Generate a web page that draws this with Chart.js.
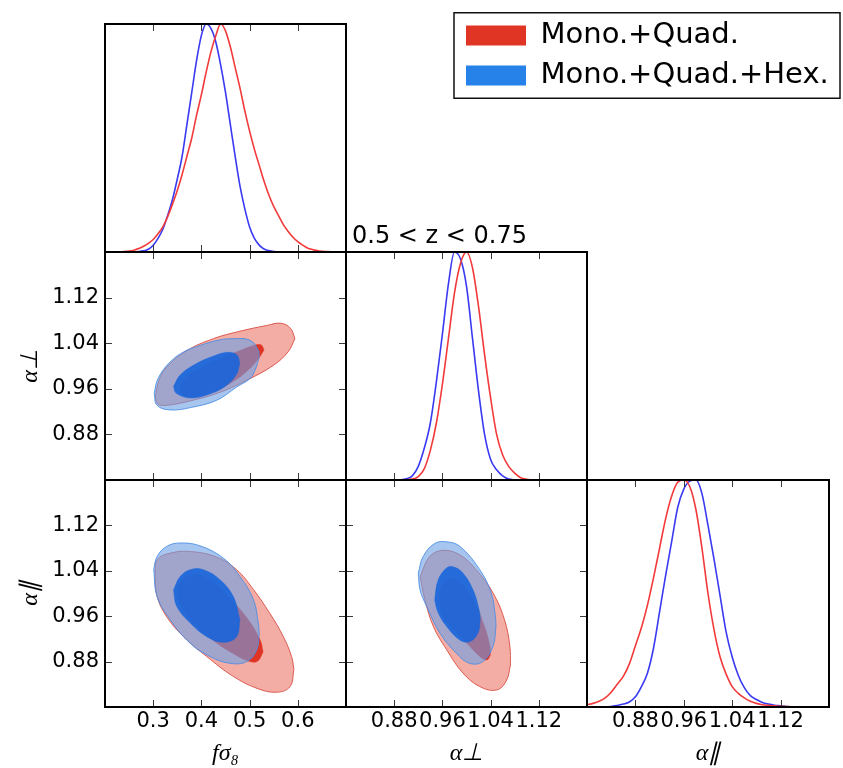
<!DOCTYPE html>
<html>
<head>
<meta charset="utf-8">
<script src="https://cdn.jsdelivr.net/npm/chart.js@4.4.1/dist/chart.umd.min.js"></script>
<style>
  body { margin: 0; background: #fff; }
  #wrap { position: relative; width: 843px; height: 768px; overflow: hidden; }
  #wrap canvas { position: absolute; left: 0; top: 0; }
  #wrap #legendBox { left: 450px; top: 10px; }
</style>
</head>
<body>
<div id="wrap">
  <canvas id="pFs8" width="843" height="768"></canvas>
  <canvas id="pFs8Perp" width="843" height="768"></canvas>
  <canvas id="pPerp" width="843" height="768"></canvas>
  <canvas id="pFs8Par" width="843" height="768"></canvas>
  <canvas id="pPerpPar" width="843" height="768"></canvas>
  <canvas id="pPar" width="843" height="768"></canvas>
  <canvas id="legendBox" width="392" height="110"></canvas>
</div>
<script>
const seriesNames = ['Mono.+Quad.', 'Mono.+Quad.+Hex.'];
const zLabel = '0.5 < z < 0.75';

const fs8Ticks = [0.3, 0.4, 0.5, 0.6];
const alphaTicks = [0.88, 0.96, 1.04, 1.12];

// 1D marginals (peak normalised to 1)
const fs8Grid = [0.20, 0.21, 0.22, 0.23, 0.24, 0.25, 0.26, 0.27, 0.28, 0.29, 0.30, 0.31, 0.32, 0.33, 0.34, 0.35, 0.36,
  0.37, 0.38, 0.39, 0.40, 0.41, 0.42, 0.43, 0.44, 0.45, 0.46, 0.47, 0.48, 0.49, 0.50, 0.51, 0.52, 0.53, 0.54, 0.55,
  0.56, 0.57, 0.58, 0.59, 0.60, 0.61, 0.62, 0.63, 0.64, 0.65, 0.66, 0.67, 0.68, 0.69, 0.70];
const fs8Red = [0, 0, 0, 0.001, 0.002, 0.004, 0.008, 0.015, 0.025, 0.038, 0.055, 0.08, 0.11, 0.155, 0.21, 0.27, 0.34,
  0.42, 0.50, 0.60, 0.69, 0.79, 0.88, 0.95, 1.0, 0.97, 0.90, 0.81, 0.72, 0.62, 0.53, 0.45, 0.38, 0.31, 0.25, 0.20,
  0.16, 0.12, 0.09, 0.065, 0.045, 0.03, 0.018, 0.011, 0.006, 0.003, 0.002, 0.001, 0, 0, 0];
const fs8Blue = [0, 0, 0, 0, 0, 0.001, 0.001, 0.002, 0.005, 0.012, 0.03, 0.06, 0.10, 0.16, 0.23, 0.32, 0.42,
  0.56, 0.70, 0.84, 0.95, 1.0, 0.98, 0.92, 0.82, 0.70, 0.56, 0.42, 0.29, 0.19, 0.11, 0.06, 0.03, 0.013, 0.006, 0.002,
  0.001, 0, 0, 0, 0, 0, 0, 0, 0, 0, 0, 0, 0, 0, 0];

const alphaGrid = [0.80, 0.81, 0.82, 0.83, 0.84, 0.85, 0.86, 0.87, 0.88, 0.89, 0.90, 0.91, 0.92, 0.93, 0.94, 0.95,
  0.96, 0.97, 0.98, 0.99, 1.00, 1.01, 1.02, 1.03, 1.04, 1.05, 1.06, 1.07, 1.08, 1.09, 1.10, 1.11, 1.12, 1.13, 1.14,
  1.15, 1.16, 1.17, 1.18, 1.19, 1.20];
const perpRed = [0, 0, 0, 0, 0, 0, 0, 0, 0, 0, 0.001, 0.004, 0.015, 0.05, 0.13, 0.25,
  0.42, 0.62, 0.82, 0.95, 1.0, 0.93, 0.76, 0.55, 0.36, 0.20, 0.11, 0.06, 0.03, 0.01, 0.003, 0, 0, 0, 0,
  0, 0, 0, 0, 0, 0];
const perpBlue = [0, 0, 0, 0, 0, 0, 0, 0, 0, 0.001, 0.005, 0.018, 0.06, 0.14, 0.25, 0.43,
  0.64, 0.86, 1.0, 0.97, 0.85, 0.62, 0.39, 0.20, 0.09, 0.045, 0.018, 0.004, 0.001, 0, 0, 0, 0, 0, 0,
  0, 0, 0, 0, 0, 0];
const parRed = [0.01, 0.016, 0.025, 0.04, 0.065, 0.10, 0.135, 0.19, 0.27, 0.35, 0.45, 0.57, 0.70, 0.83, 0.93, 0.99,
  1.0, 0.97, 0.87, 0.70, 0.50, 0.34, 0.22, 0.145, 0.09, 0.06, 0.04, 0.025, 0.016, 0.01, 0.007, 0.005, 0.003, 0.002, 0.001,
  0, 0, 0, 0, 0, 0];
const parBlue = [0, 0, 0, 0, 0.002, 0.007, 0.013, 0.022, 0.045, 0.09, 0.15, 0.26, 0.42, 0.58, 0.73, 0.88,
  0.96, 0.995, 1.0, 0.94, 0.80, 0.65, 0.49, 0.33, 0.22, 0.14, 0.085, 0.05, 0.033, 0.02, 0.013, 0.008, 0.005, 0.002, 0.001,
  0, 0, 0, 0, 0, 0];

// 2D contours, each split into an upper and a lower edge running left to right
const fsPerpRedOuterTop = [[0.304, 0.945], [0.312, 0.975], [0.328, 0.998], [0.370, 1.027], [0.425, 1.048], [0.480, 1.061], [0.535, 1.071], [0.565, 1.075], [0.585, 1.066], [0.594, 1.048]];
const fsPerpRedOuterBot = [[0.304, 0.945], [0.310, 0.933], [0.328, 0.931], [0.383, 0.940], [0.439, 0.954], [0.494, 0.975], [0.549, 1.001], [0.580, 1.025], [0.594, 1.048]];
const fsPerpRedInnerTop = [[0.354, 0.961], [0.366, 0.978], [0.397, 0.996], [0.439, 1.013], [0.480, 1.027], [0.508, 1.036], [0.524, 1.037], [0.530, 1.028]];
const fsPerpRedInnerBot = [[0.354, 0.961], [0.362, 0.950], [0.387, 0.947], [0.428, 0.956], [0.470, 0.975], [0.500, 0.995], [0.520, 1.015], [0.530, 1.028]];
const fsPerpBlueOuterTop = [[0.302, 0.952], [0.310, 0.978], [0.335, 1.007], [0.366, 1.026], [0.397, 1.036], [0.433, 1.045], [0.466, 1.048], [0.501, 1.045], [0.518, 1.028], [0.520, 1.015]];
const fsPerpBlueOuterBot = [[0.302, 0.952], [0.308, 0.931], [0.335, 0.923], [0.377, 0.927], [0.432, 0.940], [0.473, 0.963], [0.501, 0.978], [0.511, 0.992], [0.520, 1.015]];
const fsPerpBlueInnerTop = [[0.342, 0.964], [0.356, 0.984], [0.387, 1.003], [0.424, 1.017], [0.455, 1.024], [0.474, 1.019], [0.480, 1.005]];
const fsPerpBlueInnerBot = [[0.342, 0.964], [0.348, 0.952], [0.377, 0.944], [0.414, 0.950], [0.449, 0.964], [0.472, 0.984], [0.480, 1.005]];

const fsParRedOuterTop = [[0.304, 1.030], [0.308, 1.059], [0.335, 1.071], [0.377, 1.074], [0.432, 1.064], [0.473, 1.042], [0.508, 1.007], [0.542, 0.965], [0.570, 0.924], [0.587, 0.889], [0.592, 0.866]];
const fsParRedOuterBot = [[0.304, 1.030], [0.308, 0.995], [0.328, 0.959], [0.363, 0.924], [0.411, 0.889], [0.466, 0.854], [0.515, 0.833], [0.556, 0.826], [0.584, 0.836], [0.592, 0.866]];
const fsParRedInnerTop = [[0.350, 1.003], [0.360, 1.024], [0.387, 1.033], [0.418, 1.024], [0.459, 0.992], [0.497, 0.954], [0.522, 0.918], [0.528, 0.897]];
const fsParRedInnerBot = [[0.350, 1.003], [0.360, 0.975], [0.387, 0.945], [0.428, 0.915], [0.470, 0.892], [0.501, 0.880], [0.517, 0.881], [0.528, 0.897]];
const fsParBlueOuterTop = [[0.301, 1.042], [0.308, 1.065], [0.328, 1.083], [0.356, 1.089], [0.397, 1.084], [0.446, 1.062], [0.480, 1.030], [0.508, 0.989], [0.518, 0.948], [0.520, 0.930]];
const fsParBlueOuterBot = [[0.301, 1.042], [0.308, 0.995], [0.335, 0.954], [0.377, 0.912], [0.418, 0.889], [0.459, 0.877], [0.494, 0.880], [0.515, 0.901], [0.520, 0.930]];
const fsParBlueInnerTop = [[0.342, 1.006], [0.356, 1.030], [0.377, 1.042], [0.404, 1.042], [0.439, 1.024], [0.466, 0.995], [0.480, 0.954]];
const fsParBlueInnerBot = [[0.342, 1.006], [0.349, 0.977], [0.377, 0.948], [0.411, 0.924], [0.446, 0.914], [0.473, 0.924], [0.480, 0.954]];

const perpParRedOuterTop = [[0.923, 1.030], [0.939, 1.065], [0.961, 1.076], [0.989, 1.068], [1.016, 1.042], [1.044, 1.001], [1.063, 0.954], [1.072, 0.907], [1.073, 0.874]];
const perpParRedOuterBot = [[0.923, 1.030], [0.931, 0.989], [0.945, 0.942], [0.967, 0.901], [0.994, 0.860], [1.022, 0.836], [1.050, 0.830], [1.066, 0.846], [1.073, 0.874]];
const perpParRedInnerTop = [[0.955, 0.989], [0.959, 1.015], [0.975, 1.027], [0.994, 1.015], [1.014, 0.983], [1.030, 0.942], [1.039, 0.907], [1.040, 0.892]];
const perpParRedInnerBot = [[0.955, 0.989], [0.961, 0.960], [0.978, 0.937], [1.000, 0.913], [1.022, 0.889], [1.034, 0.883], [1.040, 0.892]];
const perpParBlueOuterTop = [[0.920, 1.036], [0.928, 1.065], [0.947, 1.088], [0.967, 1.091], [0.989, 1.083], [1.022, 1.042], [1.041, 1.001], [1.048, 0.959], [1.049, 0.942]];
const perpParBlueOuterBot = [[0.920, 1.036], [0.923, 1.006], [0.934, 0.977], [0.956, 0.930], [0.983, 0.895], [1.005, 0.877], [1.027, 0.880], [1.044, 0.907], [1.049, 0.942]];
const perpParBlueInnerTop = [[0.947, 0.989], [0.953, 1.024], [0.967, 1.045], [0.978, 1.047], [0.994, 1.036], [1.011, 1.006], [1.021, 0.971], [1.023, 0.954]];
const perpParBlueInnerBot = [[0.947, 0.989], [0.953, 0.966], [0.967, 0.942], [0.989, 0.918], [1.005, 0.915], [1.019, 0.930], [1.023, 0.954]];

const RED_LINE = 'rgb(242,58,58)';
const BLUE_LINE = 'rgb(58,58,242)';
const RED_LIGHT = 'rgba(228,60,40,0.42)';
const RED_DARK = 'rgb(224,52,36)';
const RED_EDGE = 'rgba(214,70,60,0.85)';
const BLUE_LIGHT = 'rgba(107,160,230,0.6)';
const BLUE_DARK = 'rgba(20,100,220,0.88)';
const BLUE_EDGE = 'rgba(70,140,228,0.85)';

const W = 843, H = 768;
const cols = [[105, 346], [346, 587], [587, 829]];
const rows = [[24, 252], [252, 480], [480, 707]];

Chart.defaults.font.family = 'DejaVu Sans';
Chart.defaults.color = '#000';

const pts = arr => arr.map(p => ({ x: p[0], y: p[1] }));
const curve = (grid, vals) => grid.map((x, i) => ({ x: x, y: vals[i] }));

function lineSet(data, color) {
  return { data: data, showLine: true, fill: false, borderColor: color, borderWidth: 1.6,
    cubicInterpolationMode: 'monotone' };
}

// upper edge + lower edge filled towards the upper one
function contourSets(top, bot, fillColor, edgeColor, edgeWidth, order) {
  return [
    { data: pts(top), showLine: true, fill: false, borderColor: edgeColor, borderWidth: edgeWidth,
      tension: 0.4, order: order - 0.5 },
    { data: pts(bot), showLine: true, fill: '-1', backgroundColor: fillColor, borderColor: edgeColor,
      borderWidth: edgeWidth, tension: 0.4, order: order }
  ];
}

function frameAndTicks(xTicks, yTicks, caption) {
  return {
    id: 'frameAndTicks',
    afterDraw(chart) {
      const { ctx, chartArea: a, scales } = chart;
      ctx.save();
      ctx.strokeStyle = '#3a3a3a';
      ctx.lineWidth = 1;
      ctx.beginPath();
      xTicks.forEach(v => {
        const px = Math.round(scales.x.getPixelForValue(v)) + 0.5;
        ctx.moveTo(px, a.top); ctx.lineTo(px, a.top + 7);
        ctx.moveTo(px, a.bottom); ctx.lineTo(px, a.bottom - 7);
      });
      yTicks.forEach(v => {
        const py = Math.round(scales.y.getPixelForValue(v)) + 0.5;
        ctx.moveTo(a.left, py); ctx.lineTo(a.left + 7, py);
        ctx.moveTo(a.right, py); ctx.lineTo(a.right - 7, py);
      });
      ctx.stroke();
      ctx.strokeStyle = '#000';
      ctx.lineWidth = 2;
      ctx.strokeRect(a.left, a.top, a.right - a.left, a.bottom - a.top);
      if (caption) {
        ctx.fillStyle = '#000';
        ctx.font = '24px "DejaVu Sans"';
        ctx.textBaseline = 'alphabetic';
        ctx.fillText(caption, a.left + 6, a.top - 9);
      }
      ctx.restore();
    }
  };
}

function makePanel(id, col, row, datasets, o) {
  const [l, r] = cols[col];
  const [t, b] = rows[row];
  const titleFont = { family: 'Liberation Serif', style: 'italic', size: 24 };
  return new Chart(document.getElementById(id), {
    type: 'scatter',
    data: { datasets: datasets },
    options: {
      responsive: false,
      animation: false,
      events: [],
      layout: { padding: { left: 0, top: t, right: W - r, bottom: 0 } },
      elements: { point: { radius: 0 } },
      plugins: { legend: { display: false }, tooltip: { enabled: false } },
      scales: {
        x: {
          type: 'linear', min: o.xRange[0], max: o.xRange[1],
          afterBuildTicks: s => { s.ticks = o.xTicks.map(v => ({ value: v })); },
          afterFit: s => { s.height = H - b; },
          grid: { display: false, drawTicks: false },
          border: { display: false },
          ticks: { display: !!o.xLabels, padding: 2, font: { size: 21 }, color: '#000',
            callback: v => v.toFixed(o.xDigits) },
          title: { display: !!o.xTitle, text: o.xTitle || '', font: titleFont, color: '#000',
            padding: { top: 0, bottom: 0 } }
        },
        y: {
          type: 'linear', min: o.yRange[0], max: o.yRange[1],
          afterBuildTicks: s => { if (o.yTicks.length) s.ticks = o.yTicks.map(v => ({ value: v })); },
          afterFit: s => { s.width = l; },
          grid: { display: false, drawTicks: false },
          border: { display: false },
          ticks: { display: !!o.yLabels, padding: 6, font: { size: 21 }, color: '#000',
            callback: v => v.toFixed(2) },
          title: { display: !!o.yTitle, text: o.yTitle || '', font: titleFont, color: '#000',
            padding: { top: 16, bottom: 0 } }
        }
      }
    },
    plugins: [frameAndTicks(o.xTicks, o.yTicks, o.caption)]
  });
}

const fsRange = [0.2, 0.7];
const alphaRange = [0.8, 1.2];
const pdfRange = [0, 1];

// diagonal: 1D marginals
makePanel('pFs8', 0, 0, [
  lineSet(curve(fs8Grid, fs8Red), RED_LINE),
  lineSet(curve(fs8Grid, fs8Blue), BLUE_LINE)
], { xRange: fsRange, yRange: pdfRange, xTicks: fs8Ticks, yTicks: [], xDigits: 1 });

makePanel('pPerp', 1, 1, [
  lineSet(curve(alphaGrid, perpRed), RED_LINE),
  lineSet(curve(alphaGrid, perpBlue), BLUE_LINE)
], { xRange: alphaRange, yRange: pdfRange, xTicks: alphaTicks, yTicks: [], xDigits: 2, caption: zLabel });

makePanel('pPar', 2, 2, [
  lineSet(curve(alphaGrid, parRed), RED_LINE),
  lineSet(curve(alphaGrid, parBlue), BLUE_LINE)
], { xRange: alphaRange, yRange: pdfRange, xTicks: alphaTicks, yTicks: [], xDigits: 2,
  xLabels: true, xTitle: 'α∥' });

// off-diagonal: 68% / 95% contours
makePanel('pFs8Perp', 0, 1, [
  ...contourSets(fsPerpRedOuterTop, fsPerpRedOuterBot, RED_LIGHT, RED_EDGE, 1, 8),
  ...contourSets(fsPerpRedInnerTop, fsPerpRedInnerBot, RED_DARK, RED_DARK, 0.5, 6),
  ...contourSets(fsPerpBlueOuterTop, fsPerpBlueOuterBot, BLUE_LIGHT, BLUE_EDGE, 1, 4),
  ...contourSets(fsPerpBlueInnerTop, fsPerpBlueInnerBot, BLUE_DARK, BLUE_DARK, 0.5, 2)
], { xRange: fsRange, yRange: alphaRange, xTicks: fs8Ticks, yTicks: alphaTicks, xDigits: 1,
  yLabels: true, yTitle: 'α⊥' });

makePanel('pFs8Par', 0, 2, [
  ...contourSets(fsParRedOuterTop, fsParRedOuterBot, RED_LIGHT, RED_EDGE, 1, 8),
  ...contourSets(fsParRedInnerTop, fsParRedInnerBot, RED_DARK, RED_DARK, 0.5, 6),
  ...contourSets(fsParBlueOuterTop, fsParBlueOuterBot, BLUE_LIGHT, BLUE_EDGE, 1, 4),
  ...contourSets(fsParBlueInnerTop, fsParBlueInnerBot, BLUE_DARK, BLUE_DARK, 0.5, 2)
], { xRange: fsRange, yRange: alphaRange, xTicks: fs8Ticks, yTicks: alphaTicks, xDigits: 1,
  xLabels: true, xTitle: 'fσ₈', yLabels: true, yTitle: 'α∥' });

makePanel('pPerpPar', 1, 2, [
  ...contourSets(perpParRedOuterTop, perpParRedOuterBot, RED_LIGHT, RED_EDGE, 1, 8),
  ...contourSets(perpParRedInnerTop, perpParRedInnerBot, RED_DARK, RED_DARK, 0.5, 6),
  ...contourSets(perpParBlueOuterTop, perpParBlueOuterBot, BLUE_LIGHT, BLUE_EDGE, 1, 4),
  ...contourSets(perpParBlueInnerTop, perpParBlueInnerBot, BLUE_DARK, BLUE_DARK, 0.5, 2)
], { xRange: alphaRange, yRange: alphaRange, xTicks: alphaTicks, yTicks: alphaTicks, xDigits: 2,
  xLabels: true, xTitle: 'α⊥' });

// legend
const legendFrame = {
  id: 'legendFrame',
  afterDraw(chart) {
    const ctx = chart.ctx;
    ctx.save();
    ctx.strokeStyle = '#111';
    ctx.lineWidth = 1.5;
    ctx.strokeRect(4, 2.75, 386, 85.5);
    ctx.restore();
  }
};
new Chart(document.getElementById('legendBox'), {
  type: 'scatter',
  data: {
    datasets: [
      { label: seriesNames[0], data: [], backgroundColor: RED_DARK, borderWidth: 0 },
      { label: seriesNames[1], data: [], backgroundColor: 'rgb(38,130,232)', borderWidth: 0 }
    ]
  },
  options: {
    responsive: false,
    animation: false,
    events: [],
    layout: { padding: { left: 5, top: 0, right: 0, bottom: 0 } },
    scales: { x: { display: false }, y: { display: false } },
    plugins: {
      tooltip: { enabled: false },
      legend: {
        position: 'chartArea',
        align: 'start',
        labels: { boxWidth: 60, boxHeight: 20, padding: 11, color: '#000', font: { size: 29 } }
      }
    }
  },
  plugins: [legendFrame]
});
</script>
</body>
</html>
